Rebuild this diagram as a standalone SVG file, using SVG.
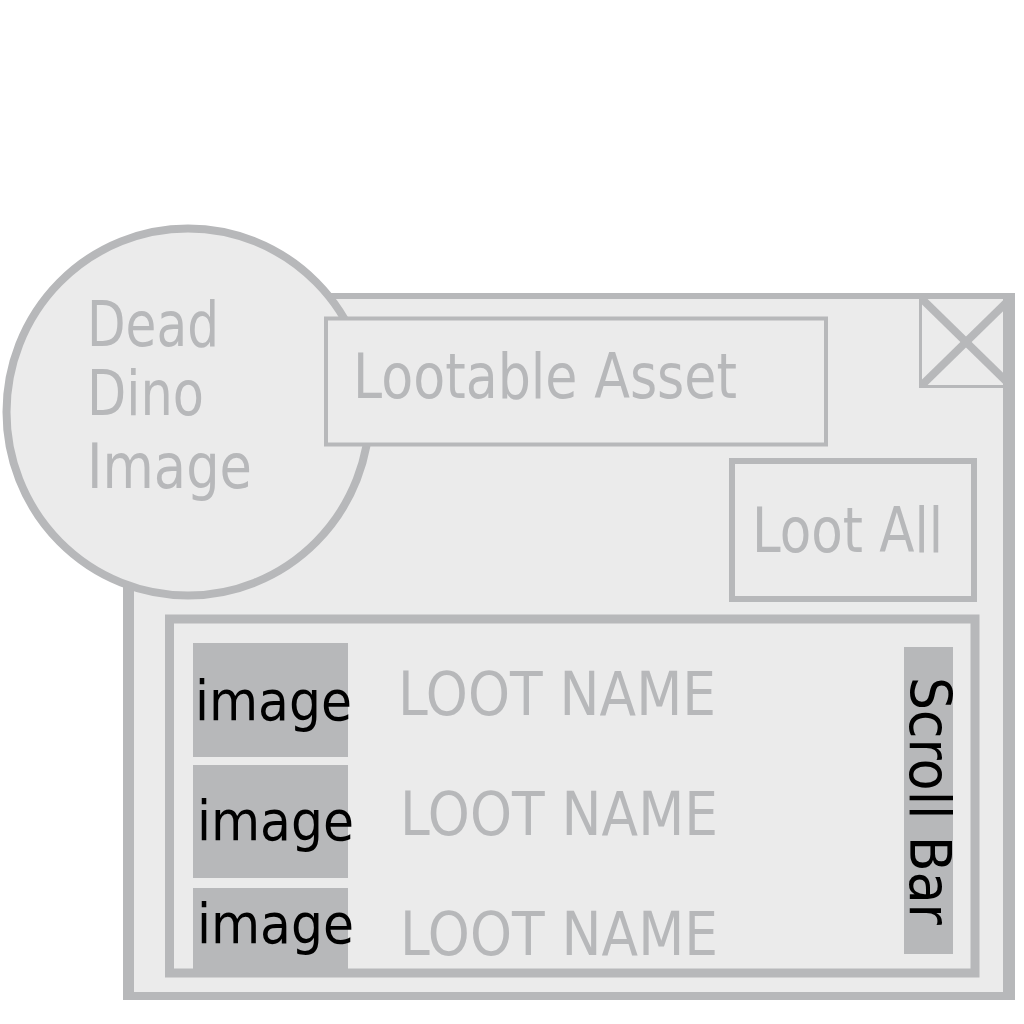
<svg xmlns="http://www.w3.org/2000/svg" width="1024" height="1024" viewBox="0 0 1024 1024">
<style>
.frame{fill:#ebebeb;stroke:#b7b8ba}
.lbl{font-family:"DejaVu Sans","Liberation Sans",sans-serif;fill:#b7b8ba}
.dark{font-family:"DejaVu Sans","Liberation Sans",sans-serif;fill:#000000}
.blk{fill:#b7b8ba}
</style>
<rect width="1024" height="1024" fill="#ffffff"/>
<g id="window">
<rect x="123" y="293" width="892" height="707" fill="#b7b8ba"/>
<rect x="134" y="299" width="869" height="693" fill="#ebebeb"/>
</g>
<g id="close-button">
<rect x="920.5" y="297.5" width="91" height="89" fill="none" stroke="#b7b8ba" stroke-width="3"/>
<line x1="922" y1="299" x2="1010" y2="385" stroke="#b7b8ba" stroke-width="8"/>
<line x1="1010" y1="299" x2="922" y2="385" stroke="#b7b8ba" stroke-width="8"/>
</g>
<g id="dino-image">
<ellipse cx="188" cy="412" rx="181.5" ry="183.5" class="frame" stroke-width="8"/>
<text class="lbl" font-size="63" x="87" y="346" textLength="132" lengthAdjust="spacingAndGlyphs">Dead</text>
<text class="lbl" font-size="63" x="87" y="415" textLength="117" lengthAdjust="spacingAndGlyphs">Dino</text>
<text class="lbl" font-size="63" x="87" y="488" textLength="165" lengthAdjust="spacingAndGlyphs">Image</text>
</g>
<g id="lootable-asset">
<rect x="326" y="318.5" width="500" height="126" class="frame" stroke-width="4"/>
<text class="lbl" font-size="62" x="353" y="398" textLength="384" lengthAdjust="spacingAndGlyphs">Lootable Asset</text>
</g>
<g id="loot-all">
<rect x="732" y="461" width="242" height="138" class="frame" stroke-width="6"/>
<text class="lbl" font-size="62" x="752" y="552" textLength="191" lengthAdjust="spacingAndGlyphs">Loot All</text>
</g>
<g id="loot-list">
<rect x="169.5" y="619" width="805.5" height="354" class="frame" stroke-width="9"/>
</g>
<g id="row-1">
<rect x="193" y="643" width="155" height="114" class="blk"/>
<text class="dark" font-size="56" x="195" y="720" textLength="157" lengthAdjust="spacingAndGlyphs">image</text>
<text class="lbl" font-size="61" x="398" y="715" textLength="318" lengthAdjust="spacingAndGlyphs">LOOT NAME</text>
</g>
<g id="row-2">
<rect x="193" y="765" width="155" height="113" class="blk"/>
<text class="dark" font-size="56" x="197" y="840" textLength="157" lengthAdjust="spacingAndGlyphs">image</text>
<text class="lbl" font-size="61" x="400" y="835" textLength="318" lengthAdjust="spacingAndGlyphs">LOOT NAME</text>
</g>
<g id="row-3">
<rect x="193" y="888" width="155" height="81" class="blk"/>
<text class="dark" font-size="56" x="197" y="943" textLength="157" lengthAdjust="spacingAndGlyphs">image</text>
<text class="lbl" font-size="61" x="400" y="955" textLength="318" lengthAdjust="spacingAndGlyphs">LOOT NAME</text>
</g>
<g id="scroll-bar">
<rect x="904" y="647" width="49" height="307" class="blk"/>
<text class="dark" font-size="57" transform="translate(910,677) rotate(90)" x="0" y="0" textLength="248" lengthAdjust="spacingAndGlyphs">Scroll Bar</text>
</g>
<g id="connectors"></g>
</svg>
